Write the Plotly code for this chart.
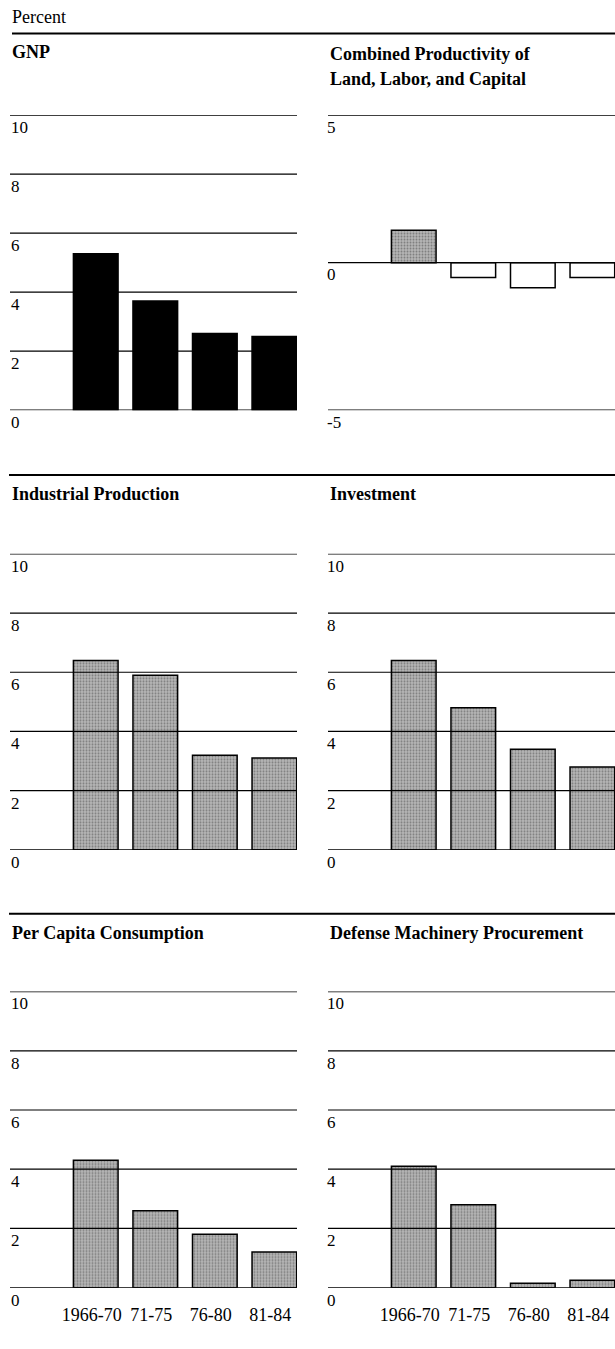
import plotly.graph_objects as go

periods = ["1966-70", "71-75", "76-80", "81-84"]
gnp = [5.3, 3.7, 2.6, 2.5]
productivity = [1.1, -0.5, -0.85, -0.5]
industrial = [6.4, 5.9, 3.2, 3.1]
investment = [6.4, 4.8, 3.4, 2.8]
consumption = [4.3, 2.6, 1.8, 1.2]
defense = [4.1, 2.8, 0.15, 0.25]

ticks_0_10 = [0, 2, 4, 6, 8, 10]
ticks_prod = [-5, 0, 5]

titles = {
    "gnp": ["GNP"],
    "prod": ["Combined Productivity of", "Land, Labor, and Capital"],
    "ind": ["Industrial Production"],
    "inv": ["Investment"],
    "cons": ["Per Capita Consumption"],
    "def": ["Defense Machinery Procurement"],
}

W, H = 615, 1349
FONT = "Liberation Serif, Times New Roman, serif"
GRAY = "#b6b6b6"


def py(px):
    return 1 - px / H


def px_x(px):
    return px / W


left_dom = [px_x(10), px_x(297)]
right_dom = [px_x(328), 1.0]
rows = [(417, 117), (864, 563), (1309, 1008)]  # (bottom px, top px)

panels = [
    (gnp, 0, 0, ticks_0_10, [0, 10], ["black"] * 4, [""] * 4),
    (productivity, 1, 0, ticks_prod, [-5, 5], [GRAY, "white", "white", "white"], [".", "", "", ""]),
    (industrial, 0, 1, ticks_0_10, [0, 10], [GRAY] * 4, ["."] * 4),
    (investment, 1, 1, ticks_0_10, [0, 10], [GRAY] * 4, ["."] * 4),
    (consumption, 0, 2, ticks_0_10, [0, 10], [GRAY] * 4, ["."] * 4),
    (defense, 1, 2, ticks_0_10, [0, 10], [GRAY] * 4, ["."] * 4),
]

fig = go.Figure()
layout = dict(
    width=W, height=H, autosize=False, margin=dict(l=0, r=0, t=0, b=0),
    paper_bgcolor="white", plot_bgcolor="rgba(0,0,0,0)",
    showlegend=False, font=dict(family=FONT, size=17, color="black"),
)
shapes = []
xrange_ = [-1.44, 3.38]

for i, (vals, col, row, tv, yr, colors, pats) in enumerate(panels):
    n = i + 1
    xa = "x" if n == 1 else f"x{n}"
    ya = "y" if n == 1 else f"y{n}"
    bottom_px, top_px = rows[row]
    fig.add_trace(go.Bar(
        x=list(range(4)), y=vals, width=0.75, xaxis=xa, yaxis=ya,
        marker=dict(
            color=colors,
            line=dict(color="black", width=1.5),
            pattern=dict(shape=pats, fgcolor="#595959", size=3, solidity=0.35),
        ),
        hoverinfo="skip",
    ))
    dom = left_dom if col == 0 else right_dom
    bottom_row = row == 2
    layout["xaxis" if n == 1 else f"xaxis{n}"] = dict(
        domain=dom, range=xrange_, anchor=ya,
        showgrid=False, zeroline=False, showline=False,
        tickvals=list(range(4)), ticktext=periods,
        showticklabels=bottom_row, ticks="",
        ticklabelstandoff=14, ticklabelshift=-4,
        tickfont=dict(family=FONT, size=18, color="black"),
        fixedrange=True,
    )
    layout["yaxis" if n == 1 else f"yaxis{n}"] = dict(
        domain=[py(bottom_px), py(top_px)], range=yr, anchor=xa,
        showgrid=False, zeroline=False, showline=False,
        tickvals=tv, ticktext=[str(v) for v in tv], ticks="",
        ticklabelposition="inside bottom", ticklabeloverflow="allow",
        ticklabelstandoff=-2 if col == 0 else -4,
        tickfont=dict(family=FONT, size=17, color="black"),
        fixedrange=True,
    )
    for v in tv:
        shapes.append(dict(
            type="line", xref=f"{xa} domain", x0=0, x1=1,
            yref=ya, y0=v, y1=v, layer="above",
            line=dict(color="black", width=1.2),
        ))

for y_px, x0 in [(34, 12), (483, 9), (929, 9)]:
    shapes.append(dict(type="line", xref="paper", yref="paper",
                       x0=px_x(x0), x1=1, y0=py(y_px), y1=py(y_px),
                       line=dict(color="black", width=2)))
layout["shapes"] = shapes

title_pos = [
    ("gnp", 10, [53]), ("prod", 328, [55, 80]),
    ("ind", 10, [502]), ("inv", 328, [502]),
    ("cons", 10, [948]), ("def", 328, [948]),
]
annotations = [dict(text="Percent", xref="paper", yref="paper", x=px_x(10), y=py(17),
                    xanchor="left", yanchor="middle", showarrow=False,
                    font=dict(family=FONT, size=18, color="black"))]
for key, xpx, ys in title_pos:
    for line, ypx in zip(titles[key], ys):
        annotations.append(dict(
            text=f"<b>{line}</b>", xref="paper", yref="paper",
            x=px_x(xpx), y=py(ypx), xanchor="left", yanchor="middle",
            showarrow=False, font=dict(family=FONT, size=18, color="black"),
        ))
layout["annotations"] = annotations

fig.update_layout(**layout)
fig.write_html("out.html", config={"displayModeBar": False, "responsive": False},
               post_script="document.body.style.margin='0';")
